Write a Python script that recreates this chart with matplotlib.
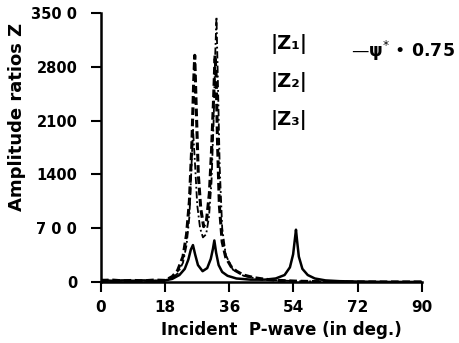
import matplotlib
matplotlib.use("Agg")
import matplotlib.pyplot as plt

# |Z1| solid
z1_x = [0, 3, 6, 9, 12, 15, 18, 20, 22, 23.5, 24.5, 25.2, 25.8, 26.4, 27.2, 28.5, 29.8, 30.8, 31.4, 31.8, 32.3, 33.0, 34.0, 35.5, 38, 42, 46, 49, 51.5, 53.0, 53.9, 54.4, 54.7, 55.0, 55.5, 56.5, 58, 60, 63, 67, 72, 80, 90]
z1_y = [25, 15, 20, 15, 20, 15, 20, 40, 90, 170, 290, 420, 480, 360, 220, 140, 180, 300, 430, 540, 380, 220, 130, 80, 45, 30, 30, 45, 90, 190, 360, 560, 680, 540, 330, 170, 90, 45, 20, 10, 5, 0, 0]

# |Z2| dashed
z2_x = [0, 3, 6, 9, 12, 15, 18, 20, 21.5, 23, 24, 24.8, 25.5, 26.0, 26.3, 26.7, 27.3, 28.0, 28.8, 29.6, 30.4, 31.0, 31.6, 32.0, 32.3, 32.7, 33.2, 34.0, 35.0, 36.5, 38, 40, 43, 46, 50, 55, 60, 70, 90]
z2_y = [20, 25, 15, 20, 15, 25, 20, 70, 150, 330, 620, 1050, 1800, 2600, 2950, 2300, 1400, 950, 720, 800, 1150, 1700, 2400, 2950, 2700, 1800, 1000, 520, 320, 200, 140, 90, 55, 35, 20, 10, 5, 0, 0]

# |Z3| dash-dot
z3_x = [0, 5, 10, 15, 18, 20, 21.5, 23, 24, 24.8, 25.3, 25.8, 26.3, 27.0, 27.8, 28.6, 29.5, 30.3, 31.0, 31.6, 32.0, 32.4, 32.8, 33.3, 34.0, 35.0, 37, 40, 45, 55, 70, 90]
z3_y = [15, 15, 15, 15, 20, 50, 110, 250, 480, 850, 1400, 2000, 1600, 1000, 700, 580, 620, 850, 1300, 2100, 2900, 3450, 2600, 1500, 700, 350, 160, 80, 30, 10, 0, 0]

xticks = [0, 18, 36, 54, 72, 90]
yticks = [0, 700, 1400, 2100, 2800, 3500]
ytick_labels = ["0", "7 0 0", "1400", "2100", "2800", "350 0"]

fig = plt.figure(figsize=(4.59, 3.43), dpi=100)
ax = fig.add_axes([0.22, 0.178, 0.699, 0.784])

ax.plot(z1_x, z1_y, color="black", lw=1.8, solid_joinstyle="round")
ax.plot(z2_x, z2_y, color="black", lw=2.2, ls=(0, (2.5, 1.2)))
ax.plot(z3_x, z3_y, color="black", lw=1.3, ls=(0, (4, 1.5, 1, 1.5)))

ax.set_xlim(0, 90)
ax.set_ylim(0, 3500)
ax.set_xticks(xticks)
ax.set_yticks(yticks)
ax.set_xticklabels([str(t) for t in xticks], fontweight="bold", fontsize=11)
ax.set_yticklabels(ytick_labels, fontweight="bold", fontsize=10.5)
for s in ["top", "right"]:
    ax.spines[s].set_visible(False)
for s in ["left", "bottom"]:
    ax.spines[s].set_linewidth(1.8)
ax.tick_params(direction="out", length=7, width=1.5)
ax.tick_params(axis="y", pad=10)
ax.tick_params(axis="x", pad=6)

fig.text(0.037, 0.66, "Amplitude ratios Z", rotation=90, ha="center", va="center",
         fontweight="bold", fontsize=13)
fig.text(0.612, 0.038, "Incident  P-wave (in deg.)", ha="center", va="center",
         fontweight="bold", fontsize=12)

ax.text(0.528, 0.885, "|Z₁|", transform=ax.transAxes, fontsize=14, fontweight="bold", va="center")
ax.text(0.528, 0.745, "|Z₂|", transform=ax.transAxes, fontsize=14, fontweight="bold", va="center")
ax.text(0.528, 0.603, "|Z₃|", transform=ax.transAxes, fontsize=14, fontweight="bold", va="center")
ax.text(0.78, 0.86, r"—$\mathbf{\psi}^{*}$ • 0.75", transform=ax.transAxes, fontsize=12.5,
        fontweight="bold", va="center")

fig.savefig("out.png", dpi=100)
